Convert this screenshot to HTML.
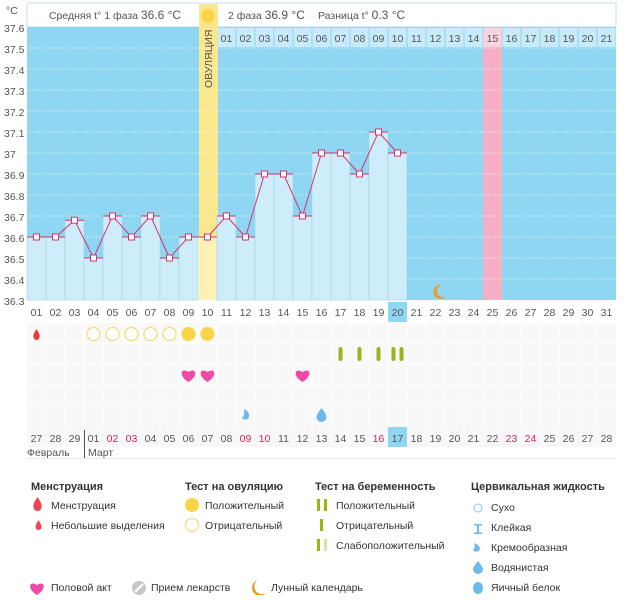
<!DOCTYPE html><html><head><meta charset="utf-8"><style>
body{margin:0;background:#fff;width:626px;height:595px;overflow:hidden}
svg{font-family:"Liberation Sans",sans-serif}
.t{font-size:10.5px;fill:#555}
.lg{font-size:10.5px;fill:#333}
.lh{font-size:11px;font-weight:bold;fill:#333}
</style></head><body>
<svg width="626" height="595" viewBox="0 0 626 595" xmlns="http://www.w3.org/2000/svg">
<text x="6" y="14" class="t" font-size="12">°C</text>
<rect x="27" y="3" width="589" height="24" fill="#fff" stroke="#bfe3ef"/>
<text x="115" y="19" class="t" text-anchor="middle">Средняя t° 1 фаза <tspan font-size="12">36.6 °C</tspan></text>
<text x="228" y="19" class="t">2 фаза <tspan font-size="12">36.9 °C</tspan></text>
<text x="318" y="19" class="t">Разница t° <tspan font-size="12">0.3 °C</tspan></text>
<rect x="27" y="27" width="589" height="273" fill="#8ed6f1"/>
</svg>
<script>
const s=document.querySelector('svg'),NS='http://www.w3.org/2000/svg';
function el(t,a,txt){const e=document.createElementNS(NS,t);for(const k in a)e.setAttribute(k,a[k]);if(txt!==undefined)e.textContent=txt;s.appendChild(e);return e;}
const cx=i=>36.5+19*(i-1), L=i=>27+19*(i-1), Y=t=>48+(37.5-t)*210;
el('rect',{x:199,y:4,width:19,height:296,fill:'#fbe78d'});
el('circle',{cx:208,cy:16,r:7,fill:'#f8d548'});
el('rect',{x:L(25),y:27,width:19,height:273,fill:'#f7afc6'});
for(let i=11;i<=31;i++){el('rect',{x:L(i)+0.5,y:28,width:18,height:19,fill:i==25?'#fbd3e0':'#c7ebfa'});el('text',{x:cx(i),y:42,'text-anchor':'middle',class:'t'},String(i-10).padStart(2,'0'));}
for(let k=0;k<=13;k++){const t=37.6-k*0.1,y=27+k*21;el('text',{x:4,y:y+5,class:'t'},(Math.round(t*10)/10).toString());
 if(k>=1&&k<13)el('line',{x1:27,x2:616,y1:y,y2:y,stroke:'#fff','stroke-dasharray':'1,2','stroke-width':1,opacity:0.9});}
const T=[36.6,36.6,36.68,36.5,36.7,36.6,36.7,36.5,36.6,36.6,36.7,36.6,36.9,36.9,36.7,37.0,37.0,36.9,37.1,37.0];
T.forEach((t,j)=>{const i=j+1;el('rect',{x:L(i),y:Y(t),width:19,height:300-Y(t),fill:i==10?'#fdf1b8':'#cdedfb',stroke:i==10?'none':'#9fcfe6','stroke-width':0.6});});
el('polyline',{points:T.map((t,j)=>cx(j+1)+','+Y(t)).join(' '),fill:'none',stroke:'#d6336f','stroke-width':1});
T.forEach((t,j)=>{const i=j+1;el('line',{x1:L(i),x2:L(i)+19,y1:Y(t),y2:Y(t),stroke:'#d6336f','stroke-width':1});el('rect',{x:cx(i)-3,y:Y(t)-3,width:6,height:6,fill:'#fff',stroke:'#d6336f','stroke-width':1});});
el('text',{x:0,y:0,transform:'translate(212,88) rotate(-90)',class:'t','font-size':'10.5'},'ОВУЛЯЦИЯ');
el('path',{d:'M442 285 a7 7 0 1 0 4 11 a6 6 0 1 1 -4 -11z',fill:'#ee9a25'});
el('rect',{x:L(20),y:302,width:19,height:20,fill:'#8ed6f1'});
for(let i=1;i<=31;i++)el('text',{x:cx(i),y:316,'text-anchor':'middle',class:'t','font-size':i==20?13:10.5},String(i).padStart(2,'0'));
el('rect',{x:27,y:323,width:589,height:124,fill:'#f8f8f8'});
for(let i=1;i<31;i++)el('line',{x1:L(i+1),x2:L(i+1),y1:323,y2:428,stroke:'#fff','stroke-width':1});
[343,364,385,405].forEach(y=>el('line',{x1:27,x2:616,y1:y,y2:y,stroke:'#fff'}));
el('path',{d:'M36.5 329 q-4 6 -3 8 a3 3 0 0 0 6 0 q1 -2 -3 -8z',fill:'#e53c3c'});
for(let i=4;i<=8;i++)el('circle',{cx:cx(i),cy:334,r:6.5,fill:'#fff',stroke:'#f6d45b','stroke-width':1});
[9,10].forEach(i=>el('circle',{cx:cx(i),cy:334,r:7,fill:'#f8d548'}));
[17,18,19].forEach(i=>el('rect',{x:cx(i)-2,y:347,width:4,height:14,rx:2,fill:'#9ab51a'}));
el('rect',{x:cx(20)-6,y:347,width:4,height:14,rx:2,fill:'#9ab51a'});el('rect',{x:cx(20)+2,y:347,width:4,height:14,rx:2,fill:'#9ab51a'});
function heart(x,y,c){el('path',{d:`M${x} ${y+7} C${x-11} ${y} ${x-7} ${y-8} ${x} ${y-3} C${x+7} ${y-8} ${x+11} ${y} ${x} ${y+7}z`,fill:c||'#f04aa8'});}
[9,10,15].forEach(i=>heart(cx(i),375));
el('path',{d:'M244 409 q6 3 5 8 a4 4 0 0 1 -7 1 q3 -3 2 -9z',fill:'#6fb9e8'});
el('path',{d:'M321.5 408 q-5 6 -5 9 a5 5 0 0 0 10 0 q0 -3 -5 -9z',fill:'#6fb9e8'});
el('rect',{x:L(20),y:427,width:19,height:20,fill:'#8ed6f1'});
const D=[27,28,29];for(let d=1;d<=28;d++)D.push(d);const red=[5,6,12,13,19,26,27];
D.forEach((d,j)=>{const i=j+1;el('text',{x:cx(i),y:442,'text-anchor':'middle',class:'t','font-size':i==20?13:10.5,style:red.includes(i)?'fill:#d8245a':''},String(d).padStart(2,'0'));});
el('line',{x1:84.5,x2:84.5,y1:430,y2:458,stroke:'#555'});
el('text',{x:27,y:456,class:'t','font-size':11.5},'Февраль');el('text',{x:88,y:456,class:'t','font-size':11.5},'Март');
el('line',{x1:27,x2:616,y1:458.5,y2:458.5,stroke:'#e8e8e8'});
const H=[[31,'Менструация'],[185,'Тест на овуляцию'],[315,'Тест на беременность'],[471,'Цервикальная жидкость']];
H.forEach(h=>el('text',{x:h[0],y:490,class:'lh'},h[1]));
el('path',{d:'M37.5 497 q-5 7 -4 10 a4 4 0 0 0 8 0 q1 -3 -4 -10z',fill:'#ef4550'});
el('text',{x:51,y:509,class:'lg'},'Менструация');
el('path',{d:'M38.5 520 q-3 5 -3 7 a3 3 0 0 0 6 0 q0 -2 -3 -7z',fill:'#ef4550'});
el('text',{x:51,y:529,class:'lg'},'Небольшие выделения');
el('circle',{cx:192,cy:505,r:7,fill:'#f8d548'});el('text',{x:205,y:509,class:'lg'},'Положительный');
el('circle',{cx:192,cy:525,r:6.5,fill:'#fff',stroke:'#f6d45b'});el('text',{x:205,y:529,class:'lg'},'Отрицательный');
el('rect',{x:317,y:499,width:3,height:12,fill:'#9ab51a'});el('rect',{x:324,y:499,width:3,height:12,fill:'#9ab51a'});el('text',{x:336,y:509,class:'lg'},'Положительный');
el('rect',{x:320,y:519,width:3,height:12,fill:'#9ab51a'});el('text',{x:336,y:529,class:'lg'},'Отрицательный');
el('rect',{x:317,y:539,width:3,height:12,fill:'#9ab51a'});el('rect',{x:324,y:539,width:3,height:12,fill:'#d5e3a8'});el('text',{x:336,y:549,class:'lg'},'Слабоположительный');
el('circle',{cx:478,cy:508,r:4,fill:'#fff',stroke:'#8cc6ec'});el('text',{x:491,y:511,class:'lg'},'Сухо');
el('path',{d:'M474 524 h8 v1.5 h-3 v7 h3 v1.5 h-8 v-1.5 h3 v-7 h-3z',fill:'#6fb9e8'});el('text',{x:491,y:531,class:'lg'},'Клейкая');
el('path',{d:'M474 543 q6 2 6 6 a4 4 0 0 1 -7 1 q3 -3 1 -7z',fill:'#6fb9e8'});el('text',{x:491,y:551,class:'lg'},'Кремообразная');
el('path',{d:'M478 561 q-5 6 -5 8 a5 5 0 0 0 10 0 q0 -2 -5 -8z',fill:'#6fb9e8'});el('text',{x:491,y:571,class:'lg'},'Водянистая');
el('ellipse',{cx:478,cy:588,rx:5,ry:6,fill:'#6fb9e8'});el('text',{x:491,y:591,class:'lg'},'Яичный белок');
heart(37,588);el('text',{x:51,y:591,class:'lg'},'Половой акт');
el('circle',{cx:139,cy:588,r:7,fill:'#c8c8c8'});el('line',{x1:135,y1:592,x2:143,y2:584,stroke:'#fff','stroke-width':2});el('text',{x:151,y:591,class:'lg'},'Прием лекарств');
el('path',{d:'M258 580 a8 8 0 1 0 8 13 a7 7 0 1 1 -8 -13z',fill:'#ee9a25'});el('text',{x:271,y:591,class:'lg'},'Лунный календарь');
</script>
</body></html>
